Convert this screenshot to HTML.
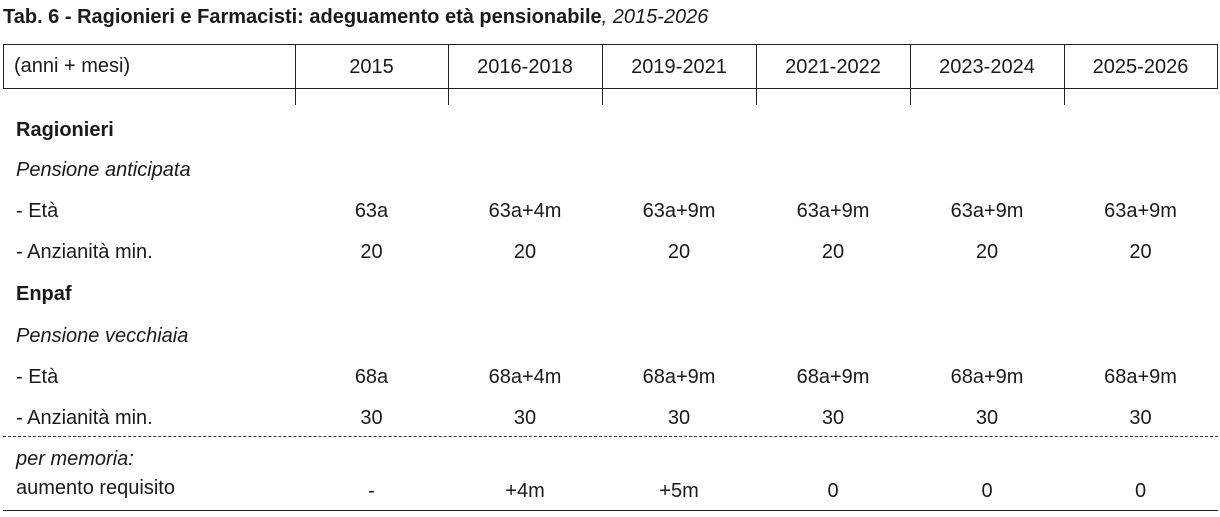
<!DOCTYPE html>
<html><head><meta charset="utf-8"><style>
body{margin:0;width:1220px;height:517px;background:#fff;position:relative;overflow:hidden;font-family:"Liberation Sans Narrow","Liberation Sans",sans-serif;color:#1a1a1a}
.t{position:absolute;font-size:20px;line-height:24px;white-space:nowrap}
.c{transform:translateX(-50%)}
.l{position:absolute;background:#222}
.v{position:absolute;width:1px;background:#222;top:44px;height:61px}
</style></head><body>
<div class="t" style="left:3px;top:5px;font-weight:bold;font-size:20px">Tab. 6 - Ragionieri e Farmacisti: adeguamento età pensionabile<span style="font-weight:normal;font-style:italic">, 2015-2026</span></div>
<div class="l" style="left:3px;top:44px;width:1215px;height:1px"></div>
<div class="l" style="left:3px;top:88px;width:1215px;height:1px"></div>
<div id="vl"></div>
<div class="t" style="left:14px;top:54px">(anni + mesi)</div>
<div id="body"></div>
<div style="position:absolute;left:3px;top:436px;width:1215px;border-top:1px dashed #333"></div>
<div class="l" style="left:3px;top:510px;width:1215px;height:1px"></div>
<script>
const columns=["2015","2016-2018","2019-2021","2021-2022","2023-2024","2025-2026"];
const ragEta=["63a","63a+4m","63a+9m","63a+9m","63a+9m","63a+9m"];
const ragAnz=["20","20","20","20","20","20"];
const enpEta=["68a","68a+4m","68a+9m","68a+9m","68a+9m","68a+9m"];
const enpAnz=["30","30","30","30","30","30"];
const aumento=["-","+4m","+5m","0","0","0"];
const edges=[3,295,448,602,756,910,1064,1217];
const vl=document.getElementById('vl');
edges.forEach((x,i)=>{const d=document.createElement('div');d.className='v';d.style.left=x+'px';


if(i==0||i==7)d.style.height='45px';vl.appendChild(d);});
const b=document.getElementById('body');
function txt(s,x,y,cls,style,name){const d=document.createElement('div');d.className='t '+(cls||'');d.textContent=s;d.style.left=x+'px';d.style.top=(y-12)+'px';if(style)d.style.cssText+=style;


b.appendChild(d);}
columns.forEach((c,i)=>txt(c,(edges[i+1]+edges[i+2])/2,67,'c','', 'column-header'));
txt('Ragionieri',16,130,'','font-weight:bold','section-ragionieri');
txt('Pensione anticipata',16,170,'','font-style:italic','subsection-pensione-anticipata');
txt('- Età',16,211,'','','row-label-eta');
txt('- Anzianità min.',16,252,'','','row-label-anzianita');
txt('Enpaf',16,294,'','font-weight:bold','section-enpaf');
txt('Pensione vecchiaia',16,336,'','font-style:italic','subsection-pensione-vecchiaia');
txt('- Età',16,377,'','','row-label-eta');
txt('- Anzianità min.',16,418,'','','row-label-anzianita');
txt('per memoria:',16,459,'','font-style:italic','row-label-per-memoria');
txt('aumento requisito',16,488,'','','row-label-aumento-requisito');
[[ragEta,211],[ragAnz,252],[enpEta,377],[enpAnz,418],[aumento,491]].forEach(([arr,y])=>arr.forEach((v,i)=>txt(v,(edges[i+1]+edges[i+2])/2,y,'c','','table-cell')));
</script>
</body></html>
